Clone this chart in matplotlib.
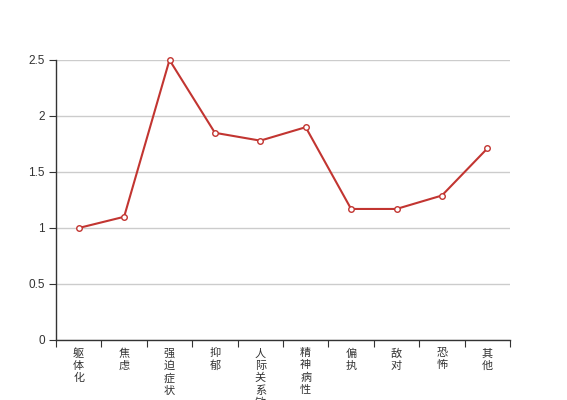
import matplotlib
matplotlib.use("Agg")
import matplotlib.pyplot as plt
import numpy as np

categories = ["躯体化", "焦虑", "强迫症状", "抑郁", "人际关系敏感", "精神病性", "偏执", "敌对", "恐怖", "其他"]
values = [1.0, 1.1, 2.5, 1.85, 1.78, 1.9, 1.17, 1.17, 1.29, 1.71]
yticks = [0, 0.5, 1, 1.5, 2, 2.5]
ytick_labels = ["0", "0.5", "1", "1.5", "2", "2.5"]

plt.rcParams['font.family'] = ['Noto Sans CJK SC', 'DejaVu Sans']

fig = plt.figure(figsize=(5.67, 4.0), dpi=100)
ax = fig.add_axes([56/567, 60/400, 454/567, 280/400])

x = np.arange(len(categories))
ax.plot(x, values, color="#c23531", linewidth=1.5, marker="o", markersize=4,
        markerfacecolor="white", markeredgecolor="#c23531", markeredgewidth=1, zorder=3, clip_on=False)

ax.set_xlim(-0.5, len(categories) - 0.5)
ax.set_ylim(0, 2.5)
ax.set_yticks(yticks)
ax.set_yticklabels(ytick_labels, fontsize=8.5, color="#333333", family=['Liberation Sans', 'DejaVu Sans'])
ax.yaxis.grid(True, color="#cccccc", linewidth=1)
ax.set_axisbelow(True)

ax.set_xticks(np.arange(-0.5, len(categories), 1.0))
ax.set_xticklabels([])
ax.set_xticks(x, minor=True)
ax.set_xticklabels(["\n".join(c) for c in categories], minor=True, fontsize=8,
                   color="#333333", linespacing=1.25, va="top")
ax.tick_params(axis="x", which="minor", length=0, pad=6)
ax.tick_params(axis="x", which="major", length=5, color="#333333", direction="out")
ax.tick_params(axis="y", length=5, color="#333333", direction="out", pad=3)

for s in ["top", "right"]:
    ax.spines[s].set_visible(False)
for s in ["left", "bottom"]:
    ax.spines[s].set_color("#333333")
    ax.spines[s].set_linewidth(1)

fig.savefig("out.png", dpi=100)
